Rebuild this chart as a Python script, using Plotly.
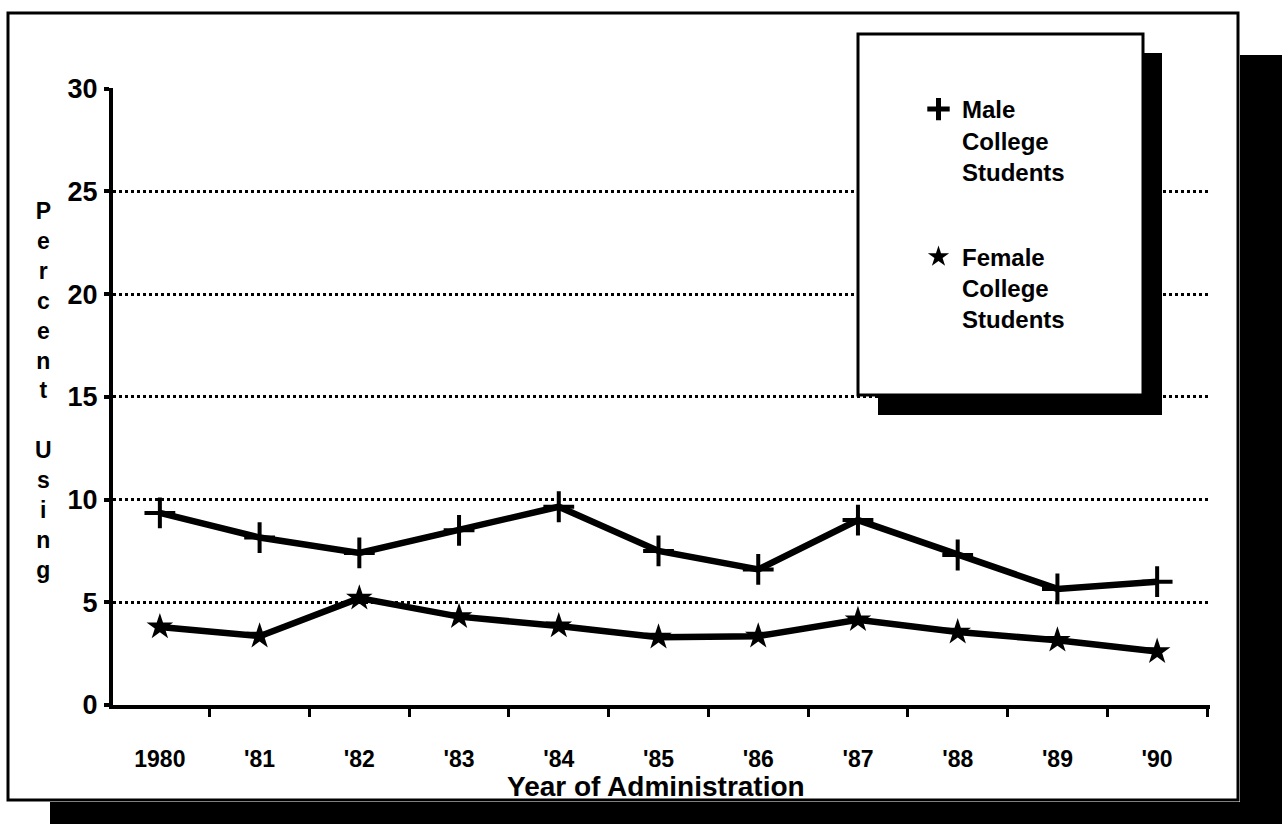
import plotly.graph_objects as go

# Survey years and percent of college students using
years = ["1980", "'81", "'82", "'83", "'84", "'85", "'86", "'87", "'88", "'89", "'90"]
male_pct = [9.35, 8.15, 7.4, 8.5, 9.65, 7.5, 6.6, 9.0, 7.3, 5.65, 6.0]
female_pct = [3.8, 3.35, 5.2, 4.3, 3.85, 3.3, 3.35, 4.15, 3.55, 3.15, 2.6]
y_ticks = [0, 5, 10, 15, 20, 25, 30]

# vertical axis title, stacked one letter per line
y_title = "Percent Using"

FONT = "Liberation Sans"
W, H = 1282, 824
L, R, T, B = 113, 1210, 88, 705  # plot area in pixels


def px(x):
    return (x - L) / (R - L)


def py(y):
    return (B - y) / (B - T)


xs = list(range(len(years)))

fig = go.Figure()

fig.add_trace(go.Scatter(
    x=xs, y=male_pct, mode="lines+markers", showlegend=False,
    line=dict(color="black", width=6.5),
    marker=dict(symbol="cross-thin", size=22, line=dict(color="black", width=4)),
))
fig.add_trace(go.Scatter(
    x=xs, y=female_pct, mode="lines+markers", showlegend=False,
    line=dict(color="black", width=6.5),
    marker=dict(symbol="star", size=20, color="black"),
))

# legend entries (marker only)
fig.add_trace(go.Scatter(
    x=[None], y=[None], mode="markers", name="Male<br>College<br>Students",
    legendgroup="m",
    marker=dict(symbol="cross-thin", size=20, line=dict(color="black", width=5)),
))
fig.add_trace(go.Scatter(
    x=[None], y=[None], mode="markers", name="Female<br>College<br>Students",
    legendgroup="f",
    marker=dict(symbol="star", size=20, color="black"),
))

shapes = []
# outer frame shadow
shapes.append(dict(type="rect", xref="paper", yref="paper", layer="below",
                   x0=px(1240), x1=px(1290), y0=py(830), y1=py(55),
                   fillcolor="black", line=dict(width=0)))
shapes.append(dict(type="rect", xref="paper", yref="paper", layer="below",
                   x0=px(50), x1=px(1290), y0=py(830), y1=py(802),
                   fillcolor="black", line=dict(width=0)))
# outer frame
shapes.append(dict(type="rect", xref="paper", yref="paper", layer="below",
                   x0=px(8), x1=px(1238), y0=py(800), y1=py(13),
                   fillcolor="white", line=dict(color="black", width=3)))
# legend box shadow and box
shapes.append(dict(type="rect", xref="paper", yref="paper", layer="above",
                   x0=px(878), x1=px(1162), y0=py(415), y1=py(53),
                   fillcolor="black", line=dict(width=0)))
shapes.append(dict(type="rect", xref="paper", yref="paper", layer="above",
                   x0=px(858), x1=px(1143), y0=py(395), y1=py(34),
                   fillcolor="white", line=dict(color="black", width=3)))

stacked = "<br>".join(ch if ch != " " else " " for ch in y_title)
annotations = [
    dict(text="<b>Year of Administration</b>",
         xref="paper", yref="paper", x=px(656), y=py(786), showarrow=False,
         xanchor="center", yanchor="middle",
         font=dict(family=FONT, size=28, color="black")),
    dict(text=f"<b>{stacked}</b>",
         xref="paper", yref="paper", x=px(43), y=py(390), showarrow=False,
         xanchor="center", yanchor="middle", align="center",
         font=dict(family=FONT, size=23, color="black")),
]

fig.update_layout(
    width=W, height=H,
    margin=dict(l=L, r=W - R, t=T, b=H - B, pad=0),
    paper_bgcolor="white", plot_bgcolor="rgba(0,0,0,0)",
    font=dict(family=FONT, color="black"),
    shapes=shapes, annotations=annotations,
    showlegend=True,
    legend=dict(
        x=px(915), y=py(87), xanchor="left", yanchor="top",
        bgcolor="rgba(0,0,0,0)", borderwidth=0,
        font=dict(family=FONT, size=24, color="black", weight="bold"),
        valign="top", tracegroupgap=51, itemwidth=37,
    ),
    xaxis=dict(
        range=[-0.47, 10.53], tickmode="array", tickvals=xs, ticktext=years,
        showgrid=False, zeroline=False, showline=True, linecolor="black",
        linewidth=4, ticks="", ticklabelstandoff=30,
        tickfont=dict(family=FONT, size=23, color="black", weight="bold"),
        minor=dict(tickmode="array", tickvals=[i - 0.5 for i in range(len(years) + 1)],
                   ticks="outside", ticklen=8, tickwidth=3, tickcolor="black",
                   showgrid=False),
    ),
    yaxis=dict(
        range=[0, 30.03], tickmode="array", tickvals=y_ticks,
        ticktext=[str(v) for v in y_ticks],
        showgrid=True, gridcolor="black", gridwidth=2.5, griddash="dot",
        zeroline=False, showline=True, linecolor="black", linewidth=4,
        ticks="outside", ticklen=5, tickwidth=4, tickcolor="black",
        ticklabelstandoff=1,
        tickfont=dict(family=FONT, size=27, color="black", weight="bold"),
    ),
)

fig.write_html("out.html")
